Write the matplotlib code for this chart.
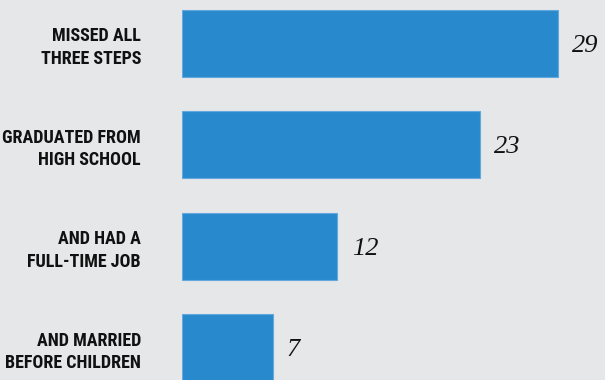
import matplotlib.pyplot as plt
from matplotlib import font_manager
import numpy as np

# share of group in poverty, by steps taken
categories = ['MISSED ALL\nTHREE STEPS', 'GRADUATED FROM\nHIGH SCHOOL',
              'AND HAD A\nFULL-TIME JOB', 'AND MARRIED\nBEFORE CHILDREN']
values = [29, 23, 12, 7]

bg = '#e6e7e9'
bar_color = '#2989cd'

# pick a narrow bold face for the labels if one is around
names = set(f.name for f in font_manager.fontManager.ttflist)
label_font = dict(family='DejaVu Sans', fontsize=11)
for want in ['Roboto Condensed', 'Liberation Sans Narrow', 'Open Sans Condensed']:
    if want in names:
        label_font = dict(family=want, fontsize=13)
        break

fig = plt.figure(figsize=(6.05, 3.80), dpi=100, facecolor=bg)
ax = fig.add_axes([182/605, 0, 423/605, 1], facecolor=bg)

pos = np.arange(len(values))
ax.barh(pos, values, height=0.66, color=bar_color, edgecolor='#63a9dd', linewidth=0.8)

for p, v in zip(pos, values):
    ax.text(v + 1.1, p, str(v), va='center_baseline', ha='left', fontsize=19,
            family='Liberation Serif', style='italic', color='#111111')

ax.set_xlim(0, 423/12.95)
ax.set_ylim(3 + 32/101.5, -43/101.5)
ax.set_yticks(pos)
ax.set_yticklabels(categories, fontweight='bold', color='#111111',
                   linespacing=1.32, **label_font)
for lbl in ax.get_yticklabels():
    lbl.set_multialignment('right')
ax.tick_params(axis='y', length=0, pad=29.5)
ax.set_xticks([])
for s in ax.spines.values():
    s.set_visible(False)

fig.savefig('out.png', dpi=100, facecolor=bg)
